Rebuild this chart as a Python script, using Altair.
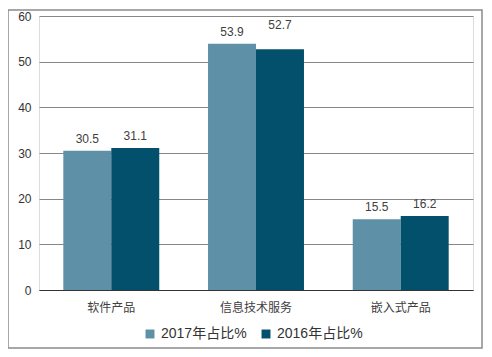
import altair as alt
import pandas as pd

categories = ["软件产品", "信息技术服务", "嵌入式产品"]
series = ["2017年占比%", "2016年占比%"]
values_2017 = [30.5, 53.9, 15.5]
values_2016 = [31.1, 52.7, 16.2]
y_ticks = [0, 10, 20, 30, 40, 50, 60]
colors = ["#5E91A8", "#02506B"]

rows = []
for c, a, b in zip(categories, values_2017, values_2016):
    rows.append({"category": c, "series": series[0], "value": a})
    rows.append({"category": c, "series": series[1], "value": b})
df = pd.DataFrame(rows)

FONT = "Liberation Sans, Noto Sans CJK SC"

x = alt.X("category:N", sort=categories, title=None,
          scale=alt.Scale(paddingInner=0.337, paddingOuter=0.168),
          axis=alt.Axis(labelAngle=0, labelFontSize=12, labelColor="#404040",
                        labelPadding=12, ticks=False, domainColor="#333333",
                        labelFont=FONT))
xo = alt.XOffset("series:N", sort=series)
y = alt.Y("value:Q", title=None,
          scale=alt.Scale(domain=[0, 60], nice=False),
          axis=alt.Axis(values=y_ticks, labelFontSize=12, labelColor="#333333",
                        labelPadding=8, ticks=False, domain=False,
                        gridColor="#878787", labelFont=FONT))

bars = alt.Chart(df).mark_bar().encode(
    x=x, xOffset=xo, y=y,
    color=alt.Color("series:N", sort=series,
                    scale=alt.Scale(domain=series, range=colors),
                    legend=alt.Legend(title=None, orient="none", direction="horizontal",
                                      legendX=104, legendY=311,
                                      symbolType="square", symbolSize=80,
                                      symbolStrokeWidth=0, labelFontSize=14,
                                      labelColor="#333333", labelFont=FONT,
                                      columnPadding=12)),
)

is_raised = (alt.datum.category == categories[1]) & (alt.datum.series == series[1])

labels = alt.Chart(df).transform_filter(~is_raised).mark_text(
    baseline="bottom", dy=-5, fontSize=12, color="#404040", font=FONT
).encode(
    x=alt.X("category:N", sort=categories), xOffset=xo, y="value:Q",
    text=alt.Text("value:Q", format=".1f"),
)

labels_raised = alt.Chart(df).transform_filter(is_raised).mark_text(
    baseline="bottom", dy=-17, fontSize=12, color="#404040", font=FONT
).encode(
    x=alt.X("category:N", sort=categories), xOffset=xo, y="value:Q",
    text=alt.Text("value:Q", format=".1f"),
)

frame = alt.Chart(pd.DataFrame({"a": [0]})).mark_rect(
    fill=None, stroke="#8a8a8a", strokeWidth=1.5, clip=False
).encode(x=alt.value(-31), x2=alt.value(434 + 9), y=alt.value(-6), y2=alt.value(274 + 58))

chart = alt.layer(frame, bars, labels, labels_raised).properties(
    width=434, height=274,
    autosize=alt.AutoSizeParams(type="none"),
    padding={"left": 31, "top": 8, "right": 11, "bottom": 59},
).configure_view(stroke=None).configure(font=FONT)

chart.save("out.html", embed_options={"renderer": "svg", "actions": False})
